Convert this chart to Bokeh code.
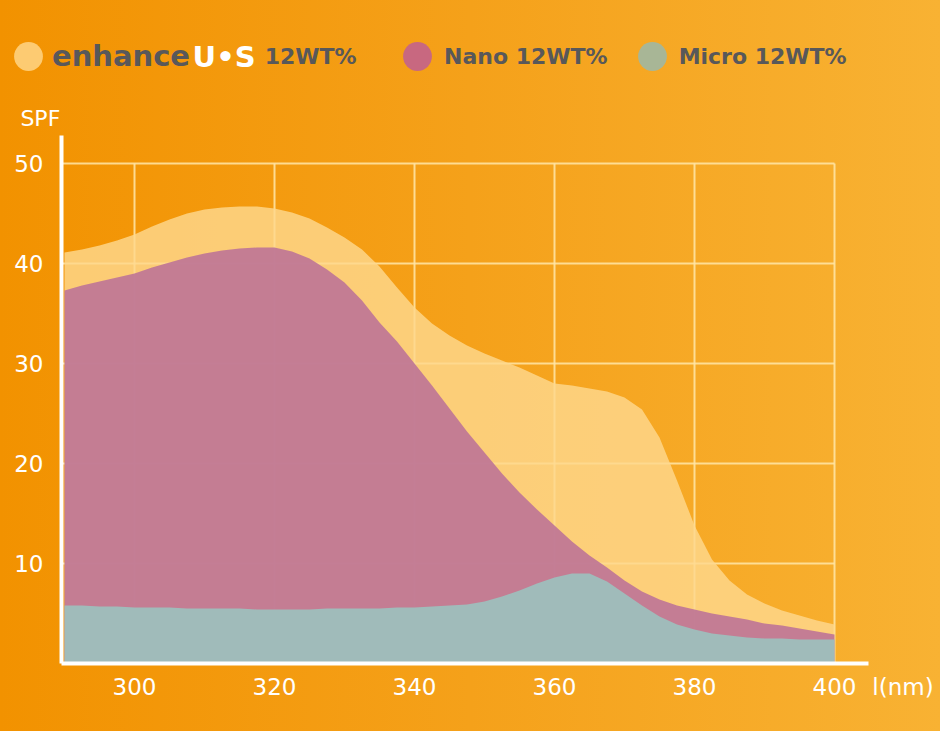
from bokeh.plotting import figure
from bokeh.models import Range1d, FixedTicker, Legend, LegendItem, Label, LinearAxis
from bokeh.embed import file_html
from bokeh.resources import INLINE

# ---- data ----
wavelength = [290, 292.5, 295, 297.5, 300, 302.5, 305, 307.5, 310, 312.5, 315, 317.5, 320,
              322.5, 325, 327.5, 330, 332.5, 335, 337.5, 340, 342.5, 345, 347.5, 350, 352.5,
              355, 357.5, 360, 362.5, 365, 367.5, 370, 372.5, 375, 377.5, 380, 382.5, 385,
              387.5, 390, 392.5, 395, 397.5, 400]
enhance_us = [41.1, 41.4, 41.8, 42.3, 42.9, 43.7, 44.4, 45.0, 45.4, 45.6, 45.7, 45.7, 45.5,
              45.1, 44.5, 43.6, 42.6, 41.4, 39.7, 37.6, 35.6, 34.0, 32.8, 31.8, 31.0, 30.3,
              29.6, 28.8, 28.0, 27.8, 27.5, 27.2, 26.6, 25.4, 22.6, 18.3, 13.8, 10.4, 8.3,
              6.9, 6.0, 5.3, 4.8, 4.3, 3.9]
nano = [37.3, 37.8, 38.2, 38.6, 39.0, 39.6, 40.1, 40.6, 41.0, 41.3, 41.5, 41.6, 41.6,
        41.2, 40.5, 39.4, 38.1, 36.3, 34.1, 32.2, 30.0, 27.8, 25.5, 23.2, 21.1, 19.0,
        17.1, 15.4, 13.8, 12.2, 10.8, 9.6, 8.3, 7.2, 6.4, 5.8, 5.4, 5.0, 4.7,
        4.4, 4.0, 3.8, 3.5, 3.2, 2.9]
micro = [5.8, 5.8, 5.7, 5.7, 5.6, 5.6, 5.6, 5.5, 5.5, 5.5, 5.5, 5.4, 5.4,
         5.4, 5.4, 5.5, 5.5, 5.5, 5.5, 5.6, 5.6, 5.7, 5.8, 5.9, 6.2, 6.7,
         7.3, 8.0, 8.6, 9.0, 9.0, 8.2, 7.0, 5.8, 4.7, 3.9, 3.4, 3.0, 2.8,
         2.6, 2.5, 2.5, 2.4, 2.4, 2.4]
x_ticks = [300, 320, 340, 360, 380, 400]
y_ticks = [10, 20, 30, 40, 50]
legend_names = ["enhance", "Nano 12WT%", "Micro 12WT%"]
brand_suffix = "U•S"
brand_conc = "12WT%"
y_title = "SPF"
x_title = "l(nm)"

FONT = "DejaVu Sans"
GRAY = "#58585A"

# axis extents (data units)
X_MIN, X_MAX = 289.57, 404.86
Y_MIN, Y_MAX = 0, 52.8

# the frame covers the whole canvas; axes are pinned with fixed_location
p = figure(width=940, height=731, output_backend="svg", toolbar_location=None,
           x_range=Range1d(280.857, 415.143), y_range=Range1d(-6.8, 66.3),
           x_axis_location=None, y_axis_location=None,
           min_border_left=0, min_border_right=0, min_border_top=0, min_border_bottom=0)
p.title.visible = False
p.background_fill_color = None
p.border_fill_color = None
p.outline_line_color = None
p.styles = {"background": "linear-gradient(to right, #F29200 0%, #F5A11A 50%, #F8B233 100%)"}
p.grid.visible = False

# grid (behind the areas), limited to the tick box
p.segment(x0=x_ticks, y0=Y_MIN, x1=x_ticks, y1=max(y_ticks),
          line_color="#FFE6A8", line_width=2, line_alpha=0.85)
p.segment(x0=X_MIN, y0=y_ticks, x1=max(x_ticks), y1=y_ticks,
          line_color="#FFE6A8", line_width=2, line_alpha=0.85)

# areas
p.varea(x=wavelength, y1=0, y2=enhance_us, fill_color="#FED88D", fill_alpha=0.82)
p.varea(x=wavelength, y1=0, y2=nano, fill_color="#C07696", fill_alpha=0.93)
p.varea(x=wavelength, y1=0, y2=micro, fill_color="#A0BBBA", fill_alpha=1.0)

# axes
yax = LinearAxis(fixed_location=X_MIN, bounds=(Y_MIN, Y_MAX), ticker=FixedTicker(ticks=y_ticks))
xax = LinearAxis(fixed_location=Y_MIN, bounds=(X_MIN, X_MAX), ticker=FixedTicker(ticks=x_ticks))
for ax in (xax, yax):
    ax.axis_line_color = "white"
    ax.axis_line_width = 4
    ax.major_tick_line_color = None
    ax.minor_tick_line_color = None
    ax.major_label_text_color = "white"
    ax.major_label_text_font = FONT
    ax.major_label_text_font_size = "23px"
xax.major_label_standoff = 8
yax.major_label_standoff = 12
p.add_layout(yax, "left")
p.add_layout(xax, "below")

p.add_layout(Label(x=283.7, y=54.5, text=y_title, text_color="white", text_font=FONT,
                   text_font_size="22px", text_baseline="middle", text_align="left"))
p.add_layout(Label(x=405.4, y=-2.3, text=x_title, text_color="white", text_font=FONT,
                   text_font_size="23px", text_baseline="middle", text_align="left"))

# legend markers: tiny (invisible) ellipses on each series' first point, used by the legends
def legend_dot(series, color):
    return p.ellipse(x=wavelength[:1], y=series[:1], width=0.01, height=0.01,
                     width_units="screen", height_units="screen",
                     fill_color=color, line_color=None)

r_e = legend_dot(enhance_us, "#FDCB72")
r_n = legend_dot(nano, "#C86880")
r_m = legend_dot(micro, "#A8B696")

common = dict(orientation="horizontal", glyph_width=36, glyph_height=40, padding=0, margin=0,
              background_fill_alpha=0, border_line_color=None, label_text_font=FONT,
              label_text_font_style="bold", label_text_color=GRAY)
legA = Legend(items=[LegendItem(label=legend_names[0], renderers=[r_e])],
              location=(10, 655), label_standoff=6, spacing=0,
              label_text_font_size="29px", **common)
legB = Legend(items=[LegendItem(label=legend_names[1], renderers=[r_n]),
                     LegendItem(label=legend_names[2], renderers=[r_m])],
              location=(399, 655), label_standoff=9, spacing=26,
              label_text_font_size="22px", **common)
p.add_layout(legA)
p.add_layout(legB)
p.add_layout(Label(x=308.3, y=60.7, text=brand_suffix, text_color="white", text_font=FONT,
                   text_font_style="bold", text_font_size="29px", text_baseline="middle"))
p.add_layout(Label(x=318.6, y=60.7, text=brand_conc, text_color=GRAY, text_font=FONT,
                   text_font_style="bold", text_font_size="22px", text_baseline="middle"))

open("out.html", "w").write(file_html(p, INLINE, title="SPF chart"))
